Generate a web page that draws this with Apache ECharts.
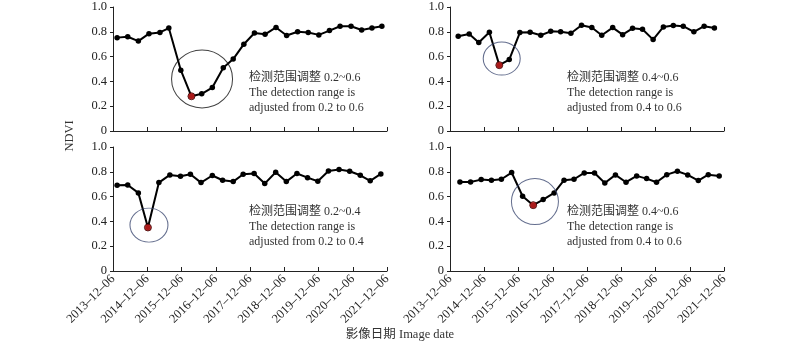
<!DOCTYPE html>
<html>
<head>
<meta charset="utf-8">
<script src="https://cdn.jsdelivr.net/npm/echarts@6/dist/echarts.min.js"></script>
<style>html,body{margin:0;padding:0;background:#fff}#c{width:800px;height:346px}</style>
</head>
<body>
<div id="c"></div>
<script>
// x = years after 2013-12-06
const p1X = [0.12,0.43,0.74,1.05,1.37,1.63,1.98,2.29,2.59,2.90,3.22,3.51,3.82,4.13,4.44,4.76,5.07,5.39,5.70,6.01,6.32,6.63,6.95,7.26,7.56,7.85];
const p1Y = [0.753,0.76,0.725,0.785,0.795,0.83,0.49,0.28,0.30,0.35,0.51,0.58,0.70,0.79,0.78,0.835,0.77,0.80,0.795,0.775,0.81,0.845,0.845,0.815,0.83,0.845];
const p2X = [0.24,0.56,0.84,1.15,1.44,1.73,2.04,2.34,2.65,2.94,3.23,3.53,3.84,4.14,4.43,4.75,5.04,5.33,5.62,5.93,6.23,6.52,6.81,7.12,7.42,7.72];
const p2Y = [0.764,0.783,0.713,0.796,0.531,0.576,0.794,0.796,0.772,0.804,0.80,0.788,0.853,0.834,0.772,0.834,0.777,0.828,0.82,0.737,0.839,0.85,0.845,0.80,0.845,0.831];
const p3X = [0.12,0.43,0.74,1.02,1.34,1.66,1.97,2.26,2.57,2.90,3.20,3.51,3.80,4.12,4.43,4.75,5.06,5.37,5.68,5.98,6.29,6.60,6.91,7.22,7.51,7.82];
const p3Y = [0.692,0.694,0.63,0.351,0.713,0.775,0.764,0.78,0.713,0.77,0.732,0.721,0.78,0.786,0.705,0.796,0.721,0.786,0.753,0.724,0.807,0.818,0.804,0.772,0.727,0.783];
const p4X = [0.29,0.60,0.91,1.21,1.50,1.80,2.12,2.43,2.72,3.04,3.33,3.62,3.92,4.22,4.52,4.83,5.14,5.45,5.74,6.03,6.33,6.64,6.94,7.25,7.54,7.86];
const p4Y = [0.718,0.718,0.737,0.732,0.74,0.794,0.603,0.531,0.576,0.63,0.732,0.74,0.791,0.791,0.71,0.775,0.716,0.767,0.745,0.716,0.777,0.804,0.775,0.729,0.777,0.767];
const redIdx = [7, 4, 3, 7];
const circleCenters = [[2.60, 0.42], [1.51, 0.584], [1.05, 0.37], [2.48, 0.56]];
const tickYears = [2013,2014,2015,2016,2017,2018,2019,2020,2021];
const notes = [
  ['检测范围调整 0.2~0.6','The detection range is','adjusted from 0.2 to 0.6'],
  ['检测范围调整 0.4~0.6','The detection range is','adjusted from 0.4 to 0.6'],
  ['检测范围调整 0.2~0.4','The detection range is','adjusted from 0.2 to 0.4'],
  ['检测范围调整 0.4~0.6','The detection range is','adjusted from 0.4 to 0.6']
];

const xs = [p1X,p2X,p3X,p4X], ys = [p1Y,p2Y,p3Y,p4Y];
const circleSizes = [[61,58],[37,33],[38,34],[47,46]];
const circleColors = ['#111','#3d4a72','#3d4a72','#3d4a72'];
const font = '"Liberation Serif", "Noto Sans CJK SC", serif';

const grids = [
  {left:113, top:7, width:274, height:124},
  {left:450, top:7, width:274, height:124},
  {left:113, top:147, width:274, height:124},
  {left:450, top:147, width:274, height:124}
];
const xAxis = grids.map((g,i)=>({
  type:'value', gridIndex:i, min:0, max:8, interval:1,
  axisLine:{show:true, lineStyle:{color:'#222', width:1}},
  axisTick:{show:true, inside:true, length:4, lineStyle:{color:'#222'}},
  splitLine:{show:false},
  axisLabel:{show:i>=2, rotate:45, fontFamily:font, fontSize:12.5, color:'#222', margin:6,
    formatter:v=>tickYears[Math.round(v)] + '–12–06'}
}));
const yAxis = grids.map((g,i)=>({
  type:'value', gridIndex:i, min:0, max:1, interval:0.2,
  axisLine:{show:true, lineStyle:{color:'#222', width:1}},
  axisTick:{show:true, length:3, lineStyle:{color:'#222'}},
  splitLine:{show:false},
  axisLabel:{fontFamily:font, fontSize:12.5, color:'#222', margin:6,
    formatter:v=> v===0 ? '0' : v.toFixed(1)}
}));
const series = [];
for (let i=0;i<4;i++){
  series.push({
    type:'line', xAxisIndex:i, yAxisIndex:i,
    data: xs[i].map((x,k)=>[x, ys[i][k]]),
    symbol:'circle', symbolSize:5.5, showSymbol:true,
    lineStyle:{color:'#000', width:2}, itemStyle:{color:'#000'},
    silent:true, animation:false, z:3
  });
  series.push({
    type:'scatter', xAxisIndex:i, yAxisIndex:i,
    data:[[xs[i][redIdx[i]], ys[i][redIdx[i]]]],
    symbol:'circle', symbolSize:7,
    itemStyle:{color:'#d62020', borderColor:'#300', borderWidth:1},
    silent:true, animation:false, z:5
  });
  series.push({
    type:'scatter', xAxisIndex:i, yAxisIndex:i,
    data:[circleCenters[i]],
    symbol:'circle', symbolSize:circleSizes[i],
    itemStyle:{color:'rgba(0,0,0,0)', borderColor:circleColors[i], borderWidth:1},
    silent:true, animation:false, z:4
  });
}
const notePos = [[249,70],[567,70],[249,204],[567,204]];
const graphic = notes.map((n,i)=>({
  type:'text', left:notePos[i][0], top:notePos[i][1],
  style:{text:n.join('\n'), font:'12px ' + font, fill:'#333', lineHeight:15}
}));
graphic.push({type:'text', left:'center', top:328,
  style:{text:'影像日期 Image date', font:'12.5px ' + font, fill:'#333'}});
graphic.push({type:'text', x:70, y:136, rotation:Math.PI/2,
  style:{text:'NDVI', font:'12.5px ' + font, fill:'#333', align:'center', verticalAlign:'middle'}});

const chart = echarts.init(document.getElementById('c'), null, {renderer:'canvas'});
chart.setOption({animation:false, grid:grids, xAxis, yAxis, series, graphic});
</script>
</body>
</html>
